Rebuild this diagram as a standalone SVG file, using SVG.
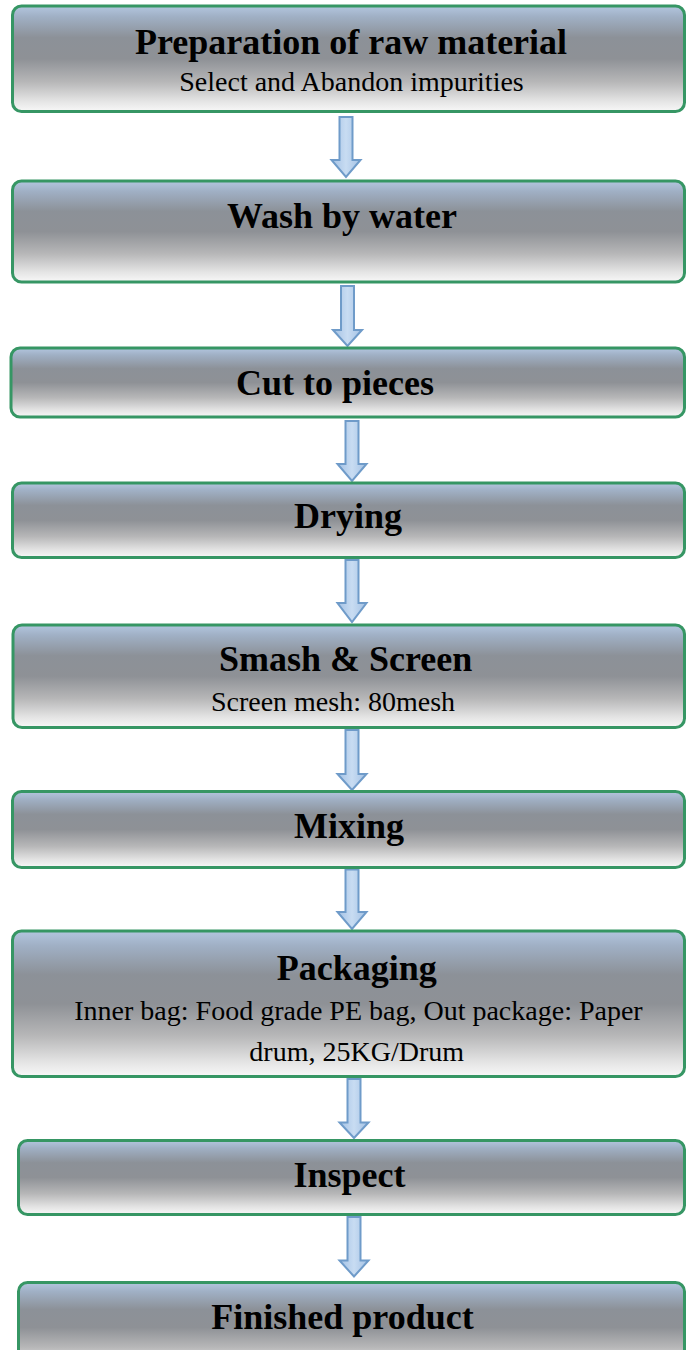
<svg xmlns="http://www.w3.org/2000/svg" width="686" height="1350" viewBox="0 0 686 1350">
<defs>
<linearGradient id="boxFill" x1="0" y1="0" x2="0" y2="1">
<stop offset="0" stop-color="#b3c6df"/>
<stop offset="0.1" stop-color="#a0b0c5"/>
<stop offset="0.3" stop-color="#8c9198"/>
<stop offset="0.5" stop-color="#8e9196"/>
<stop offset="0.72" stop-color="#b7b7b8"/>
<stop offset="0.9" stop-color="#e4e4e4"/>
<stop offset="1" stop-color="#f8f8f8"/>
</linearGradient>
<linearGradient id="arrowFill" x1="0" y1="0" x2="1" y2="0">
<stop offset="0" stop-color="#a3c1e4"/>
<stop offset="0.5" stop-color="#c8dcf2"/>
<stop offset="1" stop-color="#a3c1e4"/>
</linearGradient>
</defs>
<style>
.box{fill:url(#boxFill);stroke:#369664;stroke-width:3}
.arrow{fill:url(#arrowFill);stroke:#6f9bc9;stroke-width:2;stroke-linejoin:miter}
.t{font-family:"Liberation Serif","Times New Roman",serif;font-size:36px;font-weight:bold;fill:#000;text-anchor:middle}
.s{font-family:"Liberation Serif","Times New Roman",serif;font-size:28px;fill:#000;text-anchor:middle}
</style>
<g id="connectors">
<path class="arrow" d="M339.5,117 H352.5 V160 H360.5 L346,177 L331.5,160 H339.5 Z"/>
<path class="arrow" d="M341,286 H354 V330 H362 L347.5,346 L333,330 H341 Z"/>
<path class="arrow" d="M345.5,421 H358.5 V464 H366.5 L352,481 L337.5,464 H345.5 Z"/>
<path class="arrow" d="M345.5,560 H358.5 V603 H366.5 L352,622 L337.5,603 H345.5 Z"/>
<path class="arrow" d="M345.5,730 H358.5 V774 H366.5 L352,790 L337.5,774 H345.5 Z"/>
<path class="arrow" d="M345.5,869.5 H358.5 V912 H366.5 L352,929 L337.5,912 H345.5 Z"/>
<path class="arrow" d="M347.5,1079 H360.5 V1122.5 H368.5 L354,1138 L339.5,1122.5 H347.5 Z"/>
<path class="arrow" d="M347.5,1217 H360.5 V1260.5 H368.5 L354,1276.5 L339.5,1260.5 H347.5 Z"/>
</g>
<g id="node1">
<rect class="box" x="12.5" y="6" width="672" height="105.5" rx="9"/>
<text class="t" x="351" y="54">Preparation of raw material</text>
<text class="s" x="351.5" y="91">Select and Abandon impurities</text>
</g>
<g id="node2">
<rect class="box" x="12.5" y="181" width="672" height="101" rx="9"/>
<text class="t" x="342" y="228">Wash by water</text>
</g>
<g id="node3">
<rect class="box" x="11" y="348" width="673.5" height="69" rx="9"/>
<text class="t" x="335" y="395">Cut to pieces</text>
</g>
<g id="node4">
<rect class="box" x="12.5" y="483" width="672" height="74.5" rx="9"/>
<text class="t" x="348" y="528">Drying</text>
</g>
<g id="node5">
<rect class="box" x="13" y="625" width="671.5" height="102.5" rx="9"/>
<text class="t" x="345.7" y="671">Smash &amp; Screen</text>
<text class="s" x="333" y="711">Screen mesh: 80mesh</text>
</g>
<g id="node6">
<rect class="box" x="12.5" y="791.5" width="672" height="76" rx="9"/>
<text class="t" x="349" y="838">Mixing</text>
</g>
<g id="node7">
<rect class="box" x="12.5" y="931" width="672" height="145.5" rx="9"/>
<text class="t" x="356.7" y="980">Packaging</text>
<text class="s" x="358.5" y="1020">Inner bag: Food grade PE bag, Out package: Paper</text>
<text class="s" x="356.7" y="1061">drum, 25KG/Drum</text>
</g>
<g id="node8">
<rect class="box" x="18.5" y="1140.5" width="666" height="74" rx="9"/>
<text class="t" x="349.5" y="1187">Inspect</text>
</g>
<g id="node9">
<rect class="box" x="18.5" y="1282.5" width="666" height="90" rx="9"/>
<text class="t" x="342.5" y="1329">Finished product</text>
</g>
</svg>
